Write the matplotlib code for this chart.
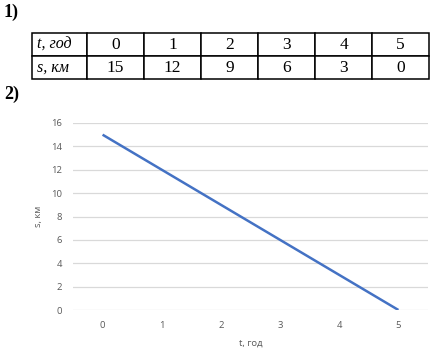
import matplotlib.pyplot as plt

# дані
t_vals = [0, 1, 2, 3, 4, 5]
s_vals = [15, 12, 9, 6, 3, 0]
row_labels = ["t, год", "s, км"]
y_ticks = [0, 2, 4, 6, 8, 10, 12, 14, 16]

W, H = 439, 353
fig = plt.figure(figsize=(W / 100, H / 100), dpi=100)

serif = "Liberation Serif"
chart_font = "Open Sans"
grey = "#595959"

# підписи "1)" та "2)"
fig.text(4 / W, 1 - 12 / H, "1)", family=serif, fontsize=13, fontweight="bold", va="center")
fig.text(4 / W, 1 - 94 / H, "2)", family=serif, fontsize=13, fontweight="bold", va="center")

# таблиця
tab_ax = fig.add_axes([32 / W, 1 - 79 / H, 397 / W, 46 / H])
tab_ax.axis("off")
cells = [[row_labels[0]] + [str(v) for v in t_vals],
         [row_labels[1]] + [str(v) for v in s_vals]]
col_w = [55 / 397] + [57 / 397] * 6
tbl = tab_ax.table(cellText=cells, colWidths=col_w, bbox=[0, 0, 1, 1], cellLoc="center")
tbl.auto_set_font_size(False)
for (r, c), cell in tbl.get_celld().items():
    cell.set_linewidth(1.1)
    cell.set_edgecolor("black")
    txt = cell.get_text()
    txt.set_fontfamily(serif)
    txt.set_fontsize(12.5)
    if c == 0:
        txt.set_fontstyle("italic")
        txt.set_fontsize(11.5)
        txt.set_ha("left")
        cell.PAD = 0.09

# графік
ax = fig.add_axes([73 / W, 1 - 310 / H, 355 / W, 187 / H])
ax.plot(t_vals, s_vals, color="#4472C4", lw=1.8, solid_capstyle="butt")
ax.set_xlim(-0.5, 5.5)
ax.set_ylim(0, 16)
ax.set_yticks(y_ticks)
ax.set_xticks(t_vals)
ax.grid(axis="y", color="#D9D9D9", lw=0.9)
ax.set_axisbelow(True)
for sp in ax.spines.values():
    sp.set_visible(False)
ax.tick_params(length=0, labelsize=6.8, labelcolor=grey, pad=8)
for lab in ax.get_xticklabels() + ax.get_yticklabels():
    lab.set_fontfamily(chart_font)
ax.set_xlabel("t, год", fontsize=6.8, color=grey, family=chart_font, labelpad=6)
ax.set_ylabel("s, км", fontsize=6.8, color=grey, family=chart_font, labelpad=6)

fig.savefig("out.png", dpi=100)
